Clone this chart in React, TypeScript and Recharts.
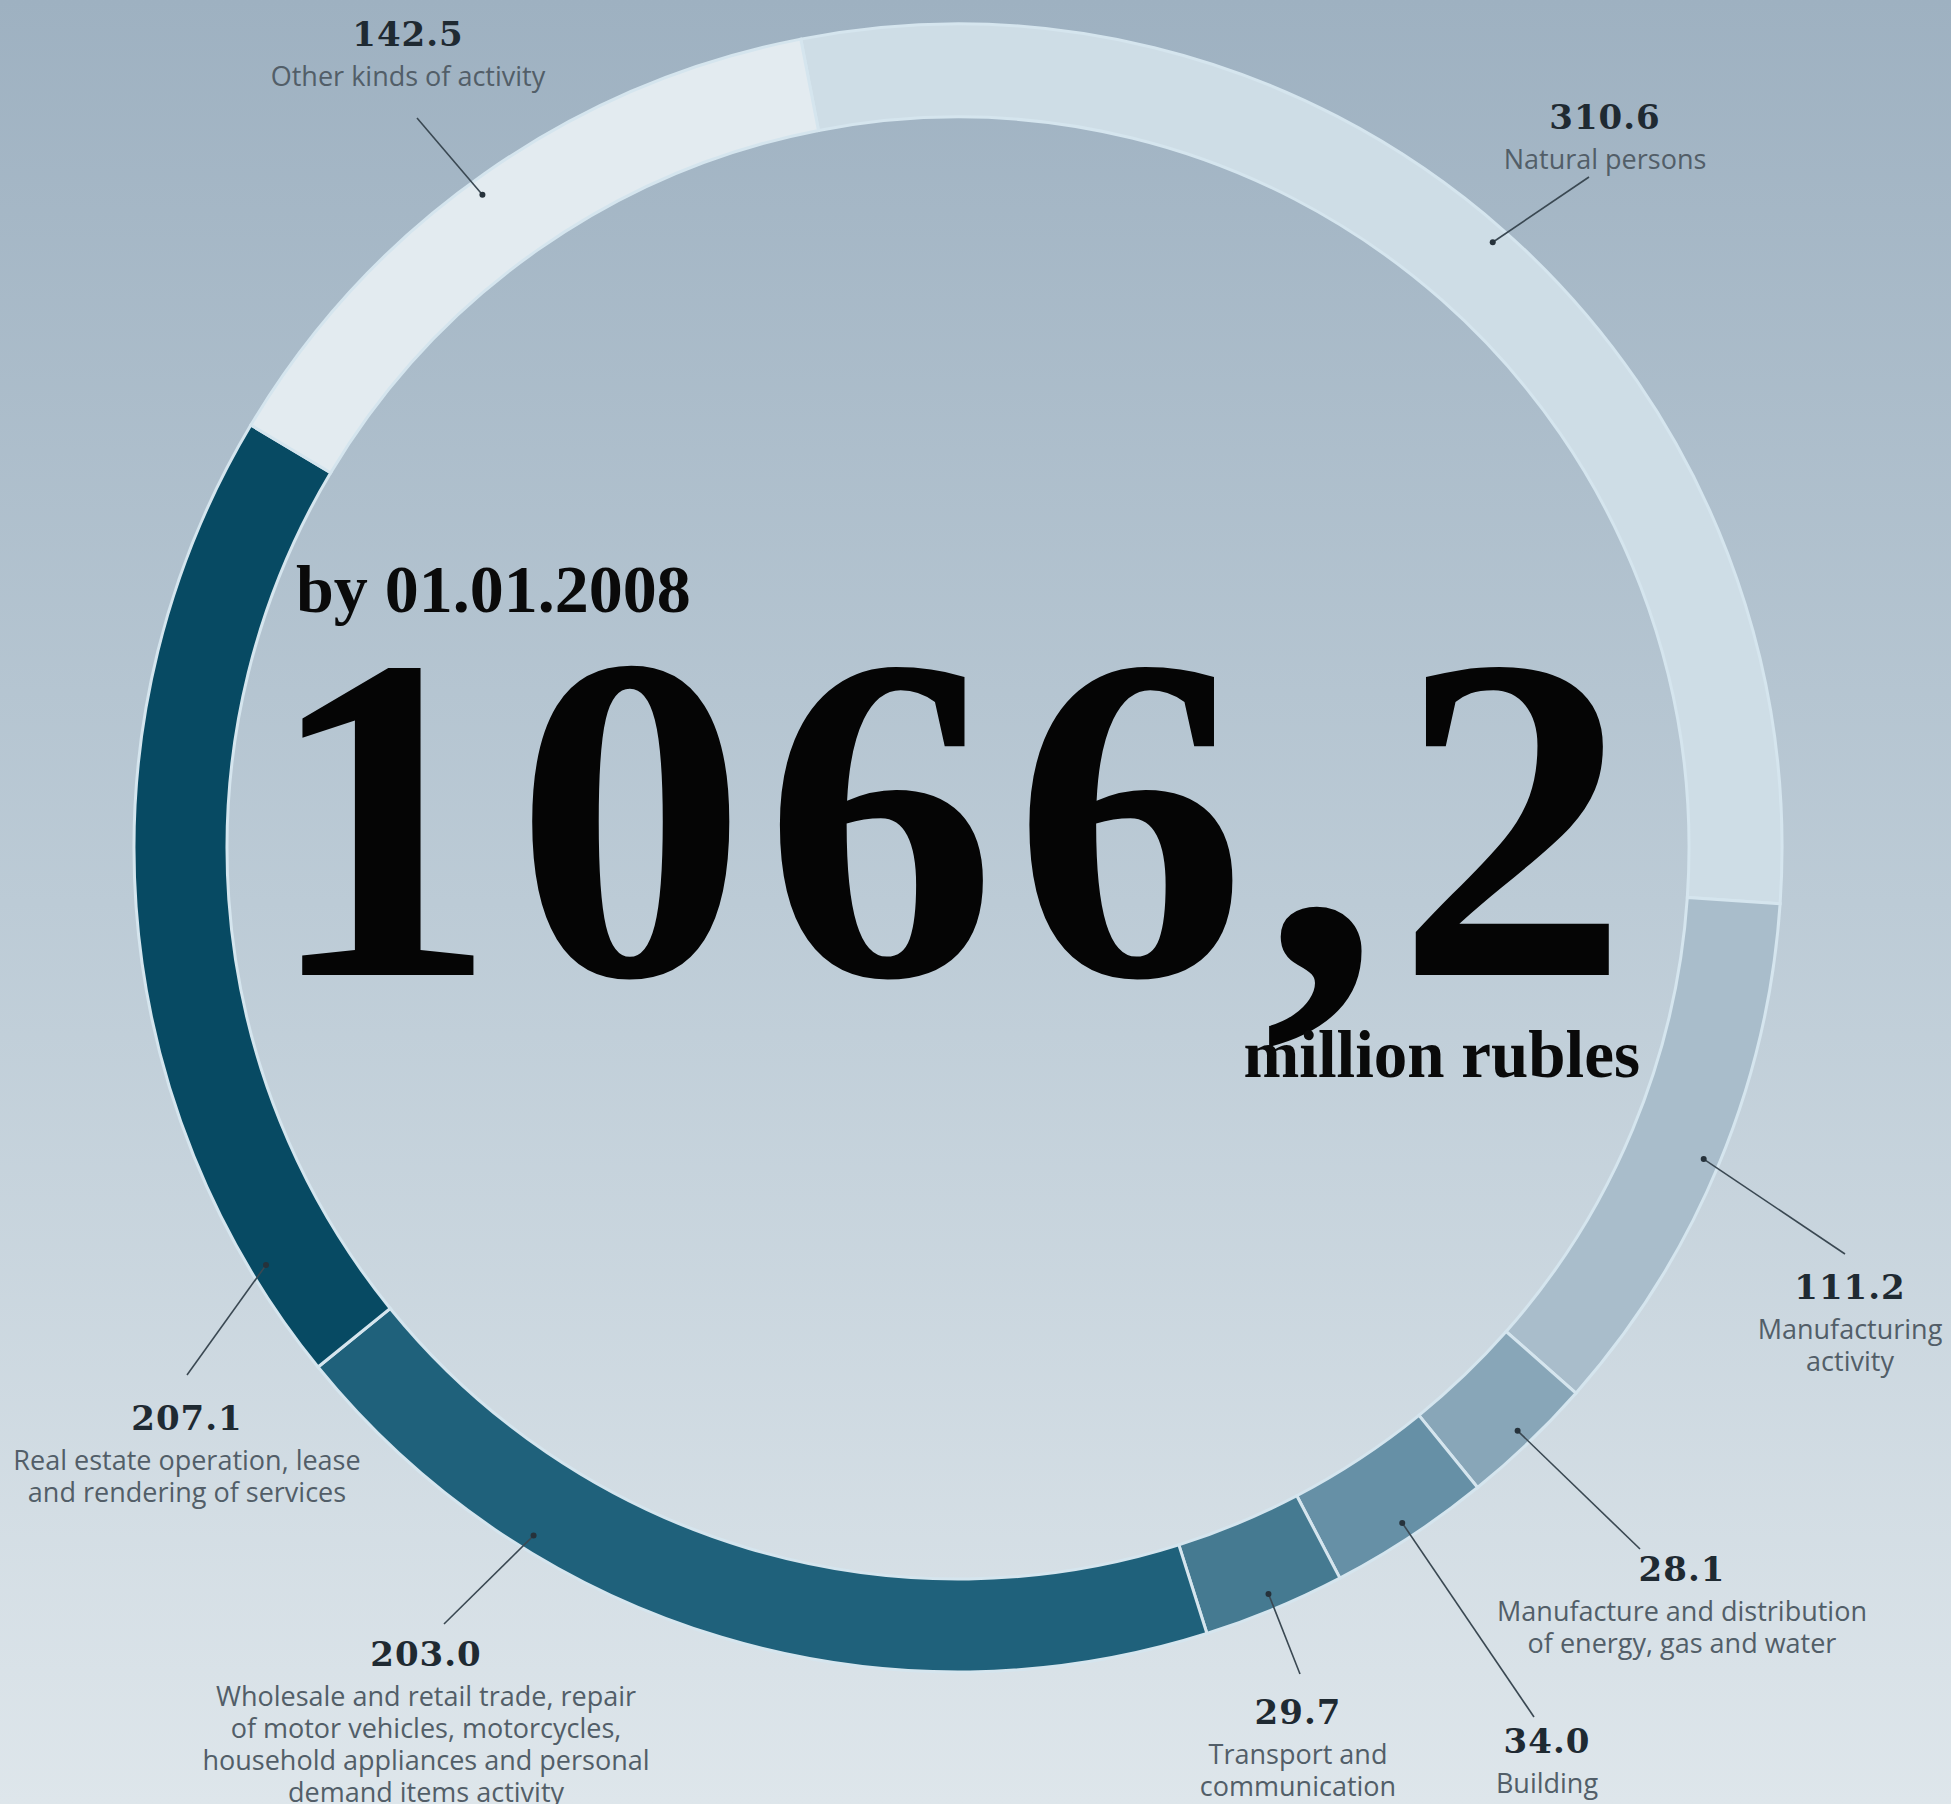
import React from 'react';
import { PieChart, Pie, Cell } from 'recharts';

// sectors, clockwise from the top
const categories = [
  'Natural persons',
  'Manufacturing activity',
  'Manufacture and distribution of energy, gas and water',
  'Building',
  'Transport and communication',
  'Wholesale and retail trade',
  'Real estate operation',
  'Other kinds of activity',
];
const values = [310.6, 111.2, 28.1, 34.0, 29.7, 203.0, 207.1, 142.5];
const valueLabels = ['310.6', '111.2', '28.1', '34.0', '29.7', '203.0', '207.1', '142.5'];
const labelLines = [
  ['Natural persons'],
  ['Manufacturing', 'activity'],
  ['Manufacture and distribution', 'of energy, gas and water'],
  ['Building'],
  ['Transport and', 'communication'],
  [
    'Wholesale and retail trade, repair',
    'of motor vehicles, motorcycles,',
    'household appliances and personal',
    'demand items activity',
  ],
  ['Real estate operation, lease', 'and rendering of services'],
  ['Other kinds of activity'],
];
const colors = ['#cedde6', '#a9bdcb', '#88a6b8', '#6690a6', '#457a91', '#1f617b', '#074a63', '#e3ebf0'];

// where each annotation sits (value baseline centre, leader line start) and how far its dot moves off the slice middle
const labelLayout = [
  { x: 1605, y: 129, lx: 1589, ly: 177, shift: 0 },
  { x: 1850, y: 1299, lx: 1845, ly: 1254, shift: 0 },
  { x: 1682, y: 1581, lx: 1640, ly: 1549, shift: 0 },
  { x: 1547, y: 1753, lx: 1534, ly: 1717, shift: 0 },
  { x: 1298, y: 1724, lx: 1300, ly: 1674, shift: 0 },
  { x: 426, y: 1666, lx: 444, ly: 1624, shift: -15 },
  { x: 187, y: 1430, lx: 187, ly: 1375, shift: 27 },
  { x: 408, y: 46, lx: 417, ly: 118, shift: 1 },
];

const chartData = categories.map((name, i) => ({ name, value: values[i] }));

const RAD = Math.PI / 180;
const serif = '"Liberation Serif", "Times New Roman", serif';

const renderLabel = (props: any) => {
  const { cx, cy, midAngle, outerRadius, index } = props;
  const lay = labelLayout[index];
  const a = (midAngle + lay.shift) * RAD;
  const r = outerRadius - 16;
  const dx = cx + r * Math.cos(-a);
  const dy = cy + r * Math.sin(-a);
  return (
    <g key={`lbl-${index}`}>
      <line x1={lay.lx} y1={lay.ly} x2={dx} y2={dy} stroke="#3a4852" strokeWidth={1.6} />
      <circle cx={dx} cy={dy} r={3} fill="#26323b" />
      <text
        x={lay.x}
        y={lay.y}
        textAnchor="middle"
        fontFamily='"DejaVu Serif", serif'
        fontWeight="bold"
        fontSize={34}
        letterSpacing={1}
        fill="#1f2a32"
      >
        {valueLabels[index]}
      </text>
      {labelLines[index].map((t, i) => (
        <text
          key={i}
          x={lay.x}
          y={lay.y + 40 + i * 32}
          textAnchor="middle"
          fontFamily='"Open Sans", sans-serif'
          fontSize={27}
          fill="#525e68"
        >
          {t}
        </text>
      ))}
    </g>
  );
};

export default function App() {
  return (
    <div
      style={{
        position: 'absolute',
        left: 0,
        top: 0,
        width: 1951,
        height: 1804,
        background: 'linear-gradient(to bottom, #9eb1c1 0%, #bccbd6 50%, #dee6eb 100%)',
      }}
    >
      <PieChart width={1951} height={1804} margin={{ top: 0, right: 0, bottom: 0, left: 0 }}>
        <Pie
          data={chartData}
          dataKey="value"
          nameKey="name"
          cx={958}
          cy={848}
          innerRadius={731}
          outerRadius={824}
          startAngle={101}
          endAngle={-259}
          stroke="#d5e5ee"
          strokeWidth={3}
          label={renderLabel}
          labelLine={false}
          isAnimationActive={false}
        >
          {chartData.map((d, i) => (
            <Cell key={`cell-${i}`} fill={colors[i]} />
          ))}
        </Pie>
        <text x={296} y={612} fontFamily={serif} fontWeight="bold" fontSize={68} fill="#0a0a0a">
          by 01.01.2008
        </text>
        <text x={265} y={975} fontFamily={serif} fontWeight="bold" fontSize={465} letterSpacing={17} fill="#050505">
          1066,2
        </text>
        <text x={1640} y={1077} textAnchor="end" fontFamily={serif} fontWeight="bold" fontSize={67} fill="#0a0a0a">
          million rubles
        </text>
      </PieChart>
    </div>
  );
}
